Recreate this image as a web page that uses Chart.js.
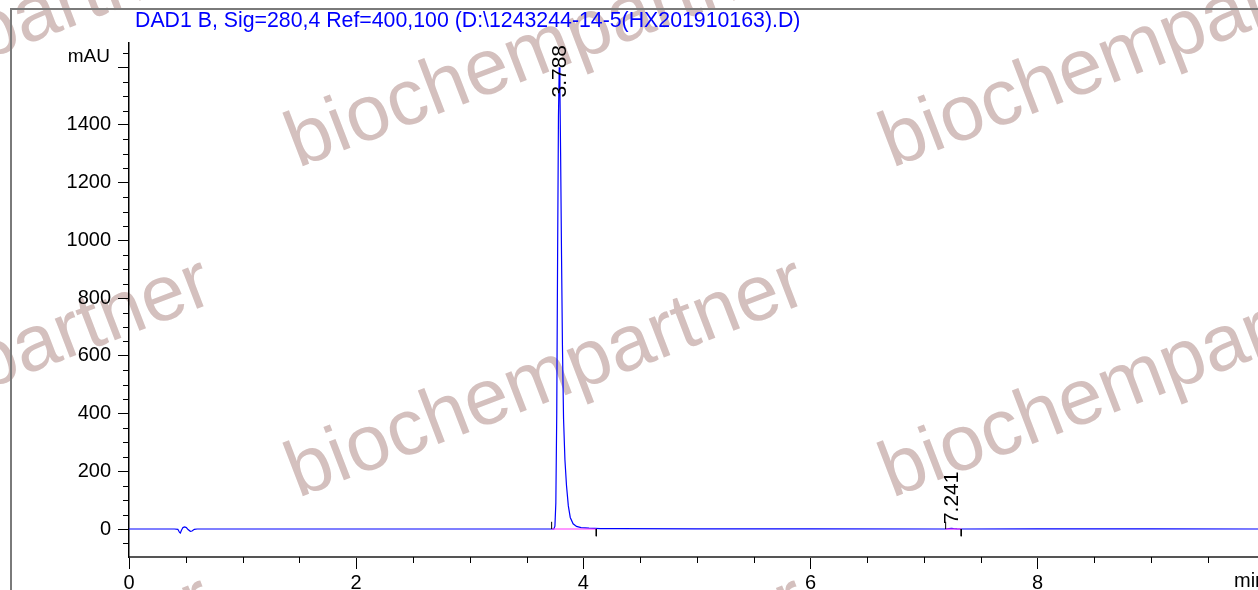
<!DOCTYPE html>
<html>
<head>
<meta charset="utf-8">
<script src="https://cdn.jsdelivr.net/npm/chart.js@4.4.1/dist/chart.umd.min.js"></script>
<style>
  body { margin: 0; background: #fff; }
  #wrap { position: relative; width: 1258px; height: 590px; overflow: hidden; font-family: "Liberation Sans", Arial, sans-serif; }
  .wm { position: absolute; font-size: 79px; line-height: 79px; color: #d4c0be; white-space: nowrap;
        transform-origin: 0 67px; transform: rotate(-21deg); z-index: 0; }
  #frame { position: absolute; left: 10px; top: 8px; width: 1400px; height: 700px;
           border-left: 2px solid #7a7a7a; border-top: 2px solid #7a7a7a; z-index: 1; }
  canvas { position: absolute; left: 0; top: 0; z-index: 2; }
  .lbl { position: absolute; z-index: 3; white-space: nowrap; }
</style>
</head>
<body>
<div id="wrap">
  <div id="frame"></div>
  <canvas id="chromChart" width="1258" height="590"></canvas>
  <div class="lbl" style="left:135px; top:8px; font-size:21.3px; color:#0000ff;">DAD1 B, Sig=280,4 Ref=400,100 (D:\1243244-14-5(HX201910163).D)</div>
  <div class="lbl" style="right:1148px; top:45px; font-size:19px; color:#000;">mAU</div>
  <div class="lbl" style="left:1234px; top:569px; font-size:20px; color:#000;">min</div>
</div>
<script>
// retention time (min) and detector signal (mAU)
const times = [0, 0.40, 0.43, 0.445, 0.452, 0.462, 0.475, 0.49, 0.505, 0.52, 0.54, 0.555, 0.575, 0.60,
    1.5, 3.0, 3.70, 3.74, 3.75, 3.758, 3.766, 3.774, 3.781, 3.788, 3.794, 3.80, 3.808, 3.816, 3.826,
    3.838, 3.852, 3.868, 3.885, 3.91, 3.94, 3.98, 4.05, 4.15, 4.3, 5.0, 6.0,
    7.15, 7.19, 7.22, 7.241, 7.26, 7.29, 7.33, 8.0, 9.0, 10.0];
const signal = [0, 0, -1, -12, -14, -4, 5, 7, 5, -2, -8, -7, -1, 0,
    0, 0, 0, 0.5, 10, 90, 400, 980, 1430, 1600, 1520, 1300, 950, 640, 380,
    240, 150, 80, 40, 18, 9, 5, 3, 1.5, 1, 0.5, 0.2,
    0, 0, 1.5, 2.5, 1.5, 0.5, 0, 0.3, 0.2, 0];

// integrated peaks: label, apex time, label anchor (mAU), baseline start/end
const peakTimes = [3.788, 7.241];
const peakLabels = ['3.788', '7.241'];
const peakLabelY = [1495, 17];
const peakStart = [3.721, 7.19];
const peakEnd = [4.114, 7.327];

const yTicks = { min: -97, max: 1684, step: 50, major: 200 };
const xTicks = { min: 0, max: 9.94, step: 0.5, major: 2 };

const wmText = 'biochempartner';
const wmX = [-296, 298, 892];
const wmY = [168, 498, 816];

// watermark text, behind the chart
const wrap = document.getElementById('wrap');
wmY.forEach(y => {
    wmX.forEach(x => {
        const d = document.createElement('div');
        d.className = 'wm';
        d.textContent = wmText;
        d.style.left = x + 'px';
        d.style.top = (y - 67) + 'px';
        wrap.appendChild(d);
    });
});

const FONT = '"Liberation Sans", Arial, sans-serif';

// baseline marks of the integrator (vertical tick at start/end + magenta baseline)
const tickMarks = [];
const baseLines = [];
peakStart.forEach((s, i) => {
    tickMarks.push({x: s, y: 0}, {x: s, y: 25}, {x: s, y: null});
    tickMarks.push({x: peakEnd[i], y: 0}, {x: peakEnd[i], y: -25}, {x: peakEnd[i], y: null});
    baseLines.push({x: s, y: 0}, {x: peakEnd[i], y: 0}, {x: peakEnd[i], y: null});
});

const isMajor = (v, m) => Math.abs(v / m - Math.round(v / m)) < 1e-6;

const extrasPlugin = {
    id: 'extras',
    afterDraw(chart) {
        const ctx = chart.ctx;
        const xs = chart.scales.x, ys = chart.scales.y;
        ctx.save();
        ctx.strokeStyle = '#000';
        ctx.lineWidth = 1;
        // minor ticks
        ys.ticks.forEach(t => {
            if (isMajor(t.value, yTicks.major)) return;
            const py = Math.round(ys.getPixelForValue(t.value)) + 0.5;
            ctx.beginPath();
            ctx.moveTo(ys.right - 6, py);
            ctx.lineTo(ys.right, py);
            ctx.stroke();
        });
        xs.ticks.forEach(t => {
            if (isMajor(t.value, xTicks.major)) return;
            const px = Math.round(xs.getPixelForValue(t.value)) + 0.5;
            ctx.beginPath();
            ctx.moveTo(px, xs.top);
            ctx.lineTo(px, xs.top + 6);
            ctx.stroke();
        });
        // peak retention time labels
        ctx.fillStyle = '#000';
        ctx.font = '21px ' + FONT;
        ctx.textAlign = 'left';
        ctx.textBaseline = 'middle';
        peakTimes.forEach((t, i) => {
            ctx.save();
            ctx.translate(xs.getPixelForValue(t) + 1, ys.getPixelForValue(peakLabelY[i]));
            ctx.rotate(-Math.PI / 2);
            ctx.fillText(peakLabels[i], 0, 0);
            ctx.restore();
        });
        ctx.restore();
    }
};

new Chart(document.getElementById('chromChart'), {
    type: 'line',
    data: {
        datasets: [
            {
                data: tickMarks,
                borderColor: '#000',
                borderWidth: 1,
                pointRadius: 0,
                spanGaps: false
            },
            {
                data: baseLines,
                borderColor: '#ff33ff',
                borderWidth: 1.2,
                pointRadius: 0,
                spanGaps: false
            },
            {
                data: times.map((t, i) => ({x: t, y: signal[i]})),
                borderColor: '#0000ff',
                borderWidth: 1.2,
                pointRadius: 0,
                tension: 0
            }
        ]
    },
    options: {
        responsive: false,
        animation: false,
        devicePixelRatio: 1,
        layout: { padding: { top: 43, left: 0, right: 0, bottom: 0 } },
        plugins: {
            legend: { display: false },
            tooltip: { enabled: false }
        },
        scales: {
            x: {
                type: 'linear',
                min: xTicks.min,
                max: xTicks.max,
                afterFit: s => { s.height = 33; },
                border: { color: '#555', width: 2 },
                grid: {
                    drawOnChartArea: false,
                    tickLength: 12,
                    tickColor: c => (c.tick && isMajor(c.tick.value, xTicks.major)) ? '#000' : 'rgba(0,0,0,0)'
                },
                ticks: {
                    stepSize: xTicks.step,
                    includeBounds: false,
                    autoSkip: false,
                    maxRotation: 0,
                    maxTicksLimit: 1000,
                    padding: 2,
                    color: '#000',
                    font: { family: FONT, size: 20 },
                    callback: v => isMajor(v, xTicks.major) ? String(Math.round(v)) : ''
                }
            },
            y: {
                type: 'linear',
                min: yTicks.min,
                max: yTicks.max,
                afterFit: s => { s.width = 129; },
                border: { color: '#000', width: 1.5 },
                grid: {
                    drawOnChartArea: false,
                    tickLength: 11,
                    tickColor: c => (c.tick && isMajor(c.tick.value, yTicks.major)) ? '#000' : 'rgba(0,0,0,0)'
                },
                ticks: {
                    stepSize: yTicks.step,
                    includeBounds: false,
                    autoSkip: false,
                    maxTicksLimit: 1000,
                    padding: 7,
                    color: '#000',
                    font: { family: FONT, size: 20 },
                    callback: v => (isMajor(v, yTicks.major) && v < 1600) ? String(v) : ''
                }
            }
        }
    },
    plugins: [extrasPlugin]
});
</script>
</body>
</html>
